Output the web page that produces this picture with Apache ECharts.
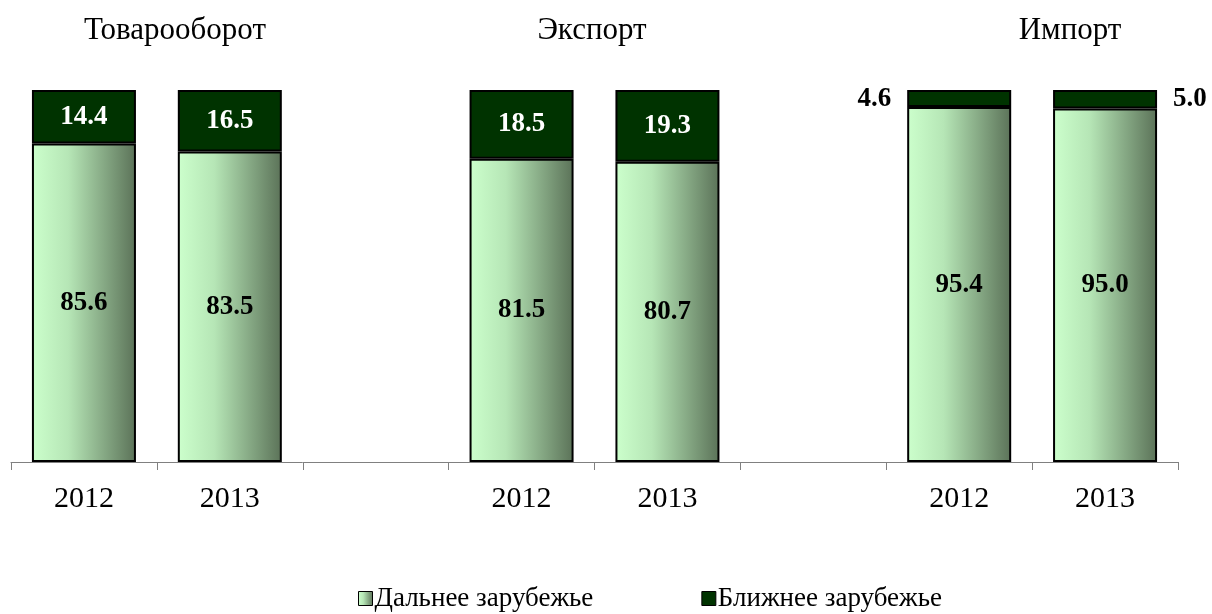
<!DOCTYPE html>
<html>
<head>
<meta charset="utf-8">
<script src="https://cdn.jsdelivr.net/npm/echarts@6/dist/echarts.min.js"></script>
<style>
  html, body { margin: 0; padding: 0; background: #fff; }
  #main { width: 1212px; height: 614px; }
</style>
</head>
<body>
<div id="main"></div>
<script>
// данные
var years = ['2012', '2013', '', '2012', '2013', '', '2012', '2013'];
var groupTitles = ['Товарооборот', 'Экспорт', 'Импорт'];
var farValues = [85.6, 83.5, null, 81.5, 80.7, null, 95.4, 95.0];   // Дальнее зарубежье
var nearValues = [14.4, 16.5, null, 18.5, 19.3, null, 4.6, 5.0];    // Ближнее зарубежье

var chart = echarts.init(document.getElementById('main'));
var font = '"Liberation Serif", "Times New Roman", serif';

// подписи у узких сегментов импорта - снаружи
var nearData = nearValues.map(function (v, i) {
  if (i === 6) return { value: v, label: { position: 'left', color: '#000', distance: 16 } };
  if (i === 7) return { value: v, label: { position: 'right', color: '#000', distance: 16 } };
  return v;
});

var titleX = [170, 587, 1065];

var option = {
  animation: false,
  textStyle: { fontFamily: font },
  title: groupTitles.map(function (t, i) {
    return {
      text: t, left: titleX[i], top: 10, textAlign: 'center',
      textStyle: { fontFamily: font, fontSize: 31, fontWeight: 'normal', color: '#000' }
    };
  }),
  legend: {
    left: 353, top: 580,
    icon: 'rect', itemWidth: 14, itemHeight: 14, itemGap: 108,
    itemStyle: { borderColor: '#000', borderWidth: 1 },
    textStyle: { fontFamily: font, fontSize: 27, color: '#000', padding: [2, 0, 0, -3] },
    data: ['Дальнее зарубежье', 'Ближнее зарубежье']
  },
  grid: { left: 11, right: 34, top: 90, bottom: 152 },
  xAxis: {
    type: 'category',
    data: years,
    axisLine: { lineStyle: { color: '#808080', width: 1 } },
    axisTick: { show: true, length: 8, alignWithLabel: false, interval: 0, lineStyle: { color: '#808080' } },
    axisLabel: { interval: 0, fontFamily: font, fontSize: 30, color: '#000', margin: 22 }
  },
  yAxis: { type: 'value', min: 0, max: 100, show: false, splitLine: { show: false } },
  series: [
    {
      name: 'Дальнее зарубежье',
      type: 'bar',
      stack: 'total',
      barWidth: 104,
      data: farValues,
      itemStyle: {
        color: new echarts.graphic.LinearGradient(0, 0, 1, 0, [
          { offset: 0, color: '#ccffcc' },
          { offset: 0.35, color: '#b6e6b6' },
          { offset: 1, color: '#5b7258' }
        ]),
        borderColor: '#000', borderWidth: 2
      },
      label: {
        show: true, position: 'inside', fontFamily: font, fontSize: 27, fontWeight: 'bold', color: '#000',
        formatter: function (p) { return p.value.toFixed(1); }
      }
    },
    {
      name: 'Ближнее зарубежье',
      type: 'bar',
      stack: 'total',
      barWidth: 104,
      data: nearData,
      itemStyle: { color: '#003300', borderColor: '#000', borderWidth: 2 },
      label: {
        show: true, position: 'inside', fontFamily: font, fontSize: 27, fontWeight: 'bold', color: '#fff',
        formatter: function (p) { return p.value.toFixed(1); }
      }
    }
  ]
};

chart.setOption(option);
</script>
</body>
</html>
